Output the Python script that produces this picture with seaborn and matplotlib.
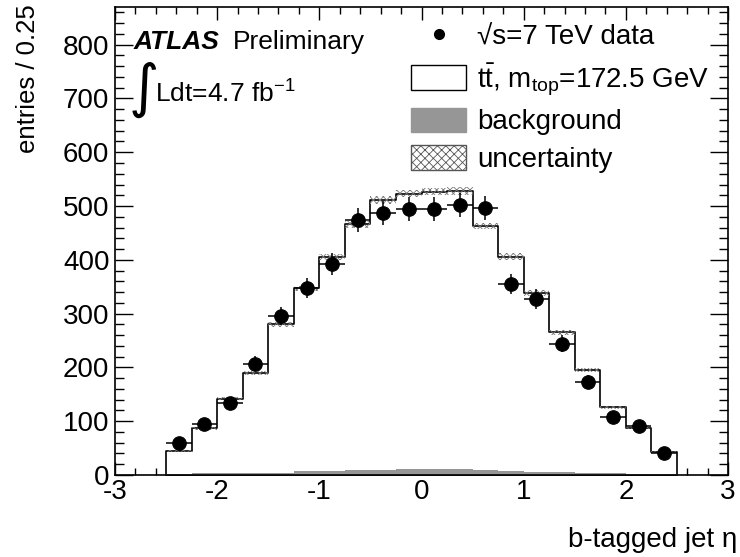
import numpy as np
import pandas as pd
import matplotlib
matplotlib.use('Agg')
import matplotlib.pyplot as plt
import seaborn as sns
from matplotlib.lines import Line2D
from matplotlib.patches import Patch
from matplotlib.ticker import MultipleLocator

# binning: 20 bins of 0.25 in eta
edges = np.arange(-2.5, 2.51, 0.25)
centers = (edges[:-1] + edges[1:]) / 2

# values
ttbar = [43, 84, 139, 186, 276, 339, 397, 457, 501, 512,
         516, 517, 454, 398, 332, 260, 192, 123, 86, 41]
bkg = [2, 3, 3, 3, 4, 8, 8, 9, 10, 11,
       11, 11, 9, 8, 6, 5, 3, 3, 2, 2]
unc = [2, 3, 3, 4, 5, 5, 6, 6, 7, 7,
       7, 7, 6, 6, 5, 5, 4, 3, 3, 2]
data = [59, 94, 133, 207, 296, 348, 392, 474, 487, 495,
        495, 502, 496, 355, 327, 244, 172, 108, 92, 40]
data_err = [8, 10, 12, 14, 17, 19, 20, 22, 22, 22,
            22, 22, 22, 19, 18, 16, 13, 10, 10, 6]

df = pd.DataFrame({'eta': centers, 'ttbar': ttbar, 'bkg': bkg,
                   'unc': unc, 'data': data, 'err': data_err})
df['total'] = df['ttbar'] + df['bkg']

sns.set_style('ticks')
plt.rcParams['font.family'] = ['Liberation Sans', 'DejaVu Sans']
plt.rcParams['mathtext.fontset'] = 'custom'
plt.rcParams['mathtext.rm'] = 'Liberation Sans'
plt.rcParams['mathtext.it'] = 'Liberation Sans:italic'
plt.rcParams['mathtext.default'] = 'regular'
plt.rcParams['axes.unicode_minus'] = False
plt.rcParams['hatch.linewidth'] = 0.6
for key in ['text.color', 'axes.labelcolor', 'xtick.color', 'ytick.color',
            'axes.edgecolor']:
    plt.rcParams[key] = 'black'

fig = plt.figure(figsize=(7.4, 5.57), dpi=100)
ax = fig.add_axes([115 / 740, 82 / 557, 613 / 740, 468 / 557])

bin_list = edges.tolist()

# total MC (signal + background), white with black outline
sns.histplot(data=df, x='eta', weights='total', bins=bin_list, element='step',
             fill=True, color='white', edgecolor='black', linewidth=1.2,
             alpha=1, ax=ax)
# background
sns.histplot(data=df, x='eta', weights='bkg', bins=bin_list, element='step',
             fill=True, color='#969696', linewidth=0, alpha=1, ax=ax)

# uncertainty band on the total
lo = (df['total'] - df['unc']).to_numpy()
hi = (df['total'] + df['unc']).to_numpy()
ax.fill_between(edges, np.append(lo, lo[-1]), np.append(hi, hi[-1]),
                step='post', facecolor='none', edgecolor='#777777',
                hatch='xxxxx', linewidth=0, zorder=3)

# data points
ax.errorbar(df['eta'], df['data'], yerr=df['err'], xerr=0.125, fmt='none',
            ecolor='black', elinewidth=1.1, zorder=4)
sns.scatterplot(data=df, x='eta', y='data', color='black', s=95,
                edgecolor='black', zorder=5, ax=ax)

ax.set_xlim(-3, 3)
ax.set_ylim(0, 870)
ax.xaxis.set_major_locator(MultipleLocator(1))
ax.xaxis.set_minor_locator(MultipleLocator(0.2))
ax.yaxis.set_major_locator(MultipleLocator(100))
ax.yaxis.set_minor_locator(MultipleLocator(20))
ax.tick_params(which='both', direction='in', top=True, right=True,
               labelsize=20, width=1, color='black', labelcolor='black')
ax.tick_params(axis='x', which='major', length=9.5, pad=3)
ax.tick_params(axis='x', which='minor', length=5)
ax.tick_params(axis='y', which='major', length=13, pad=4)
ax.tick_params(axis='y', which='minor', length=6.5)
for s in ax.spines.values():
    s.set_linewidth(1.2)
    s.set_color('black')

ax.set_xlabel('b-tagged jet η', fontsize=20)
ax.xaxis.set_label_coords((737 - 115) / 613, (475 - 527) / 468)
ax.xaxis.label.set_ha('right')
ax.xaxis.label.set_va('top')
ax.set_ylabel('entries / 0.25', fontsize=18.5, loc='top')
ax.yaxis.set_label_coords((28 - 115) / 613, (475 - 4) / 468)
ax.yaxis.label.set_va('center')

# legend
handles = [
    Line2D([], [], marker='o', color='black', linestyle='none', markersize=7),
    Patch(facecolor='white', edgecolor='black', linewidth=1),
    Patch(facecolor='#969696', edgecolor='#969696'),
    Patch(facecolor='white', edgecolor='#555555', hatch='xxxx', linewidth=1),
]
labels = ['√s=7 TeV data', r't$\bar{t}$, m$_{top}$=172.5 GeV',
          'background', 'uncertainty']
ax.legend(handles, labels, loc='upper left',
          bbox_to_anchor=(411 / 740, 1 - 23 / 557),
          bbox_transform=fig.transFigure, frameon=False, fontsize=20,
          borderpad=0, borderaxespad=0, handlelength=1.98, handleheight=1.0,
          handletextpad=0.40, labelspacing=0.36)

# ATLAS label
fig.text(134 / 740, 1 - 49 / 557, 'ATLAS', fontsize=19, fontweight='bold',
         style='italic', va='baseline')
fig.text(233 / 740, 1 - 49 / 557, 'Preliminary', fontsize=19, va='baseline')
fig.text(129 / 740, 1 - 106 / 557, '∫', fontsize=42, va='baseline',
         family=['DejaVu Sans'])
fig.text(155 / 740, 1 - 103 / 557, r'Ldt=4.7 fb$^{-1}$', fontsize=19,
         va='baseline')

fig.savefig('out.png', dpi=100)
